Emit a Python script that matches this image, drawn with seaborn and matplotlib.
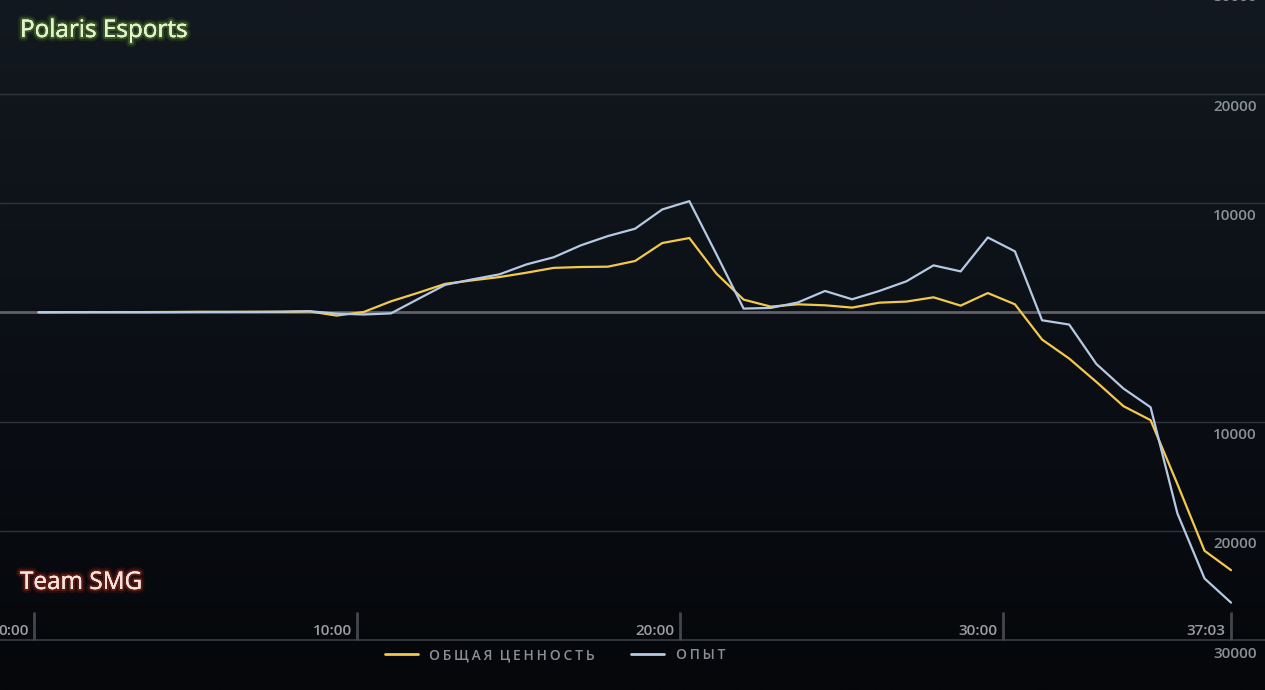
import numpy as np
import pandas as pd
import matplotlib
matplotlib.use("Agg")
import matplotlib.pyplot as plt
import matplotlib.patheffects as pe
from matplotlib.colors import LinearSegmentedColormap
from matplotlib.lines import Line2D
import seaborn as sns

# ---------------- data ----------------
minutes = [0.13, 0.97, 1.81, 2.65, 3.49, 4.33, 5.17, 6.01, 6.84, 7.68,
           8.52, 9.36, 10.20, 11.04, 11.88, 12.72, 13.56, 14.40, 15.24, 16.08,
           16.92, 17.76, 18.60, 19.44, 20.28, 21.12, 21.96, 22.80, 23.64, 24.48,
           25.32, 26.16, 27.00, 27.84, 28.68, 29.52, 30.36, 31.20, 32.04, 32.88,
           33.72, 34.56, 35.39, 36.23, 37.05]
networth = [0, 10, 20, 10, 20, 30, 40, 30, 50, 40,
            80, -300, 30, 1000, 1780, 2600, 2920, 3220, 3620, 4060,
            4140, 4170, 4690, 6330, 6790, 3530, 1160, 520, 730, 640,
            430, 880, 980, 1370, 610, 1760, 730, -2490, -4230, -6360,
            -8580, -9860, -15700, -21800, -23570]
experience = [0, 10, 10, 20, 10, 20, 30, 40, 30, 60,
              100, -120, -200, -100, 1210, 2510, 3010, 3470, 4380, 5030,
              6120, 6970, 7640, 9400, 10160, 5300, 340, 400, 900, 1950,
              1190, 1950, 2830, 4290, 3740, 6840, 5570, -730, -1120, -4720,
              -6970, -8680, -18380, -24330, -26540]
series_names = ["ОБЩАЯ ЦЕННОСТЬ", "ОПЫТ"]
series_colors = ["#f2c94c", "#b6c9e2"]
grid_values = [30000, 20000, 10000, -10000, -20000]
grid_labels = ["30000", "20000", "10000", "10000", "20000"]
axis_value = -30000
axis_label = "30000"
xtick_minutes = [0, 10, 20, 30, 37.05]
xtick_labels = ["0:00", "10:00", "20:00", "30:00", "37:03"]
team_top = "Polaris Esports"
team_bottom = "Team SMG"

df = pd.DataFrame({
    "minute": minutes * 2,
    "value": networth + experience,
    "series": [series_names[0]] * len(minutes) + [series_names[1]] * len(minutes),
})

# ---------------- figure ----------------
sns.set_theme(style="dark")
plt.rcParams["font.family"] = ["Open Sans", "DejaVu Sans"]

W, H = 1265, 690
fig = plt.figure(figsize=(W / 100, H / 100), dpi=100)
fig.patch.set_facecolor("#0a0d13")
ax = fig.add_axes([0, 0, 1, 1])

xlim = (-1.062, 38.102)
ylim = (-34525, 28547)
ax.set_xlim(*xlim)
ax.set_ylim(*ylim)

# background gradient
cmap = LinearSegmentedColormap.from_list(
    "bg", [(0.0, "#05070a"), (0.25, "#080b10"), (0.6, "#0d1118"), (1.0, "#131920")])
grad = np.linspace(0, 1, 256).reshape(-1, 1)
ax.imshow(grad, extent=[xlim[0], xlim[1], ylim[0], ylim[1]], origin="lower",
          aspect="auto", cmap=cmap, zorder=0)
ax.set_xlim(*xlim)
ax.set_ylim(*ylim)

for s in ax.spines.values():
    s.set_visible(False)
ax.set_xticks([])
ax.set_yticks([])
ax.grid(False)

# grid lines
for v in grid_values:
    ax.axhline(v, color="#30353c", lw=1.0, zorder=1)
ax.axhline(0, color="#5e6166", lw=2.0, zorder=1)
ax.axhline(axis_value, color="#3a3e45", lw=1.2, zorder=1)

# y labels (right side, below each line)
ytrans = ax.get_yaxis_transform()
for v, lab in list(zip(grid_values, grid_labels)) + [(axis_value, axis_label)]:
    ax.annotate(lab, xy=(1257 / W, v), xycoords=ytrans, xytext=(0, -4.5),
                textcoords="offset points", ha="right", va="top",
                fontsize=11, fontweight="semibold", color="#8c9096",
                annotation_clip=False, zorder=3)

# x ticks
tick_h = 2650
ax.vlines(xtick_minutes, axis_value, axis_value + tick_h, color="#43474e", lw=2, zorder=2)
for t, lab in zip(xtick_minutes, xtick_labels):
    ax.annotate(lab, xy=(t, axis_value), xytext=(-4, 2), textcoords="offset points",
                ha="right", va="bottom", fontsize=11, fontweight="semibold",
                color="#9a9da2", annotation_clip=False, zorder=3)

# lines
sns.lineplot(data=df, x="minute", y="value", hue="series",
             palette=dict(zip(series_names, series_colors)),
             linewidth=1.6, ax=ax, legend=False, zorder=4, sort=False)
ax.set_xlabel("")
ax.set_ylabel("")

# legend
handles = [Line2D([0], [0], color=c, lw=2) for c in series_colors]
spaced = ["\u2009".join(list(n)).replace("\u2009 \u2009", "  ") for n in series_names]
leg = ax.legend(handles, spaced, loc="center", bbox_to_anchor=(555 / W, 1 - 655 / H),
                ncol=2, frameon=False, fontsize=10, handlelength=2.4,
                handletextpad=0.8, columnspacing=2.6)
for txt in leg.get_texts():
    txt.set_color("#8a8e94")
    txt.set_fontweight("semibold")

# team names with glow
fig.text(20 / W, 1 - 31 / H, team_top, ha="left", va="center", fontsize=17.5,
         color="#e3f2cf", fontweight="normal",
         path_effects=[pe.withStroke(linewidth=6, foreground=(0.35, 0.55, 0.15, 0.18)),
                       pe.withStroke(linewidth=3, foreground=(0.45, 0.65, 0.2, 0.35)),
                       pe.Normal()])
fig.text(20 / W, 1 - 583 / H, team_bottom, ha="left", va="center", fontsize=17.5,
         color="#f4e4df", fontweight="normal",
         path_effects=[pe.withStroke(linewidth=6, foreground=(0.6, 0.15, 0.1, 0.2)),
                       pe.withStroke(linewidth=3, foreground=(0.7, 0.2, 0.12, 0.38)),
                       pe.Normal()])

ax.set_xlim(*xlim)
ax.set_ylim(*ylim)
fig.savefig("out.png", dpi=100, facecolor=fig.get_facecolor())
